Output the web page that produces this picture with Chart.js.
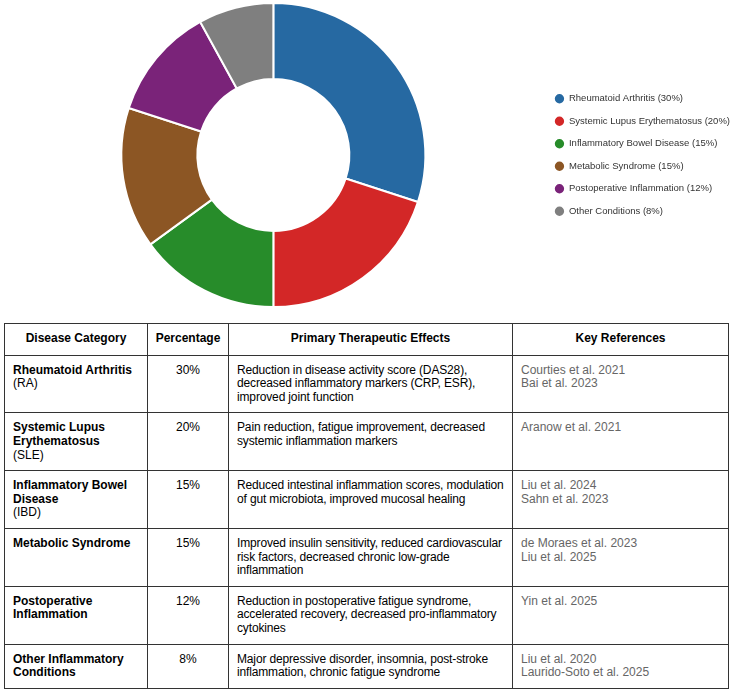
<!DOCTYPE html>
<html>
<head>
<meta charset="utf-8">
<script src="https://cdn.jsdelivr.net/npm/chart.js@4.4.1/dist/chart.umd.min.js"></script>
<style>
    body {
        margin: 0;
        background: #fff;
        overflow: hidden;
        font-family: Arial, "Liberation Sans", sans-serif;
    }

    .chart-box {
        position: relative;
        width: 740px;
        height: 310px;
    }

    table {
        border-collapse: collapse;
        table-layout: fixed;
        margin: 13px 0 0 4px;
        width: 724px;
        font-size: 12px;
        line-height: 13.6px;
        color: #000;
    }

    th, td {
        border: 1px solid #333;
        padding: 8px 2px 8px 8px;
        vertical-align: top;
        text-align: left;
    }

    th {
        text-align: center;
        font-weight: bold;
        padding: 8px 4px 9px;
    }

    td.pct {
        text-align: center;
        padding: 8px 4px;
    }

    td.effects {
        letter-spacing: -0.15px;
        padding-right: 0;
    }

    td.refs {
        color: #666;
    }
</style>
</head>
<body>

<div class="chart-box">
    <canvas id="diseaseChart"></canvas>
</div>

<table id="diseaseTable">
    <colgroup>
        <col style="width:143px">
        <col style="width:81px">
        <col style="width:284px">
        <col style="width:216px">
    </colgroup>
    <thead>
        <tr>
            <th>Disease Category</th>
            <th>Percentage</th>
            <th>Primary Therapeutic Effects</th>
            <th>Key References</th>
        </tr>
    </thead>
    <tbody></tbody>
</table>

<script>
// DADOS DO GRAFICO
const legendNames = [
    "Rheumatoid Arthritis",
    "Systemic Lupus Erythematosus",
    "Inflammatory Bowel Disease",
    "Metabolic Syndrome",
    "Postoperative Inflammation",
    "Other Conditions"
]

const shares = [30, 20, 15, 15, 12, 8]

const sliceColors = [
    "#2669a2",
    "#d32727",
    "#278c2a",
    "#8c5624",
    "#7a2379",
    "#7f7f7f"
]

// DADOS DA TABELA
const categoryNames = [
    "Rheumatoid Arthritis",
    "Systemic Lupus Erythematosus",
    "Inflammatory Bowel Disease",
    "Metabolic Syndrome",
    "Postoperative Inflammation",
    "Other Inflammatory Conditions"
]

const categoryAbbr = ["(RA)", "(SLE)", "(IBD)", "", "", ""]

const therapeuticEffects = [
    "Reduction in disease activity score (DAS28), decreased inflammatory markers (CRP, ESR), improved joint function",
    "Pain reduction, fatigue improvement, decreased systemic inflammation markers",
    "Reduced intestinal inflammation scores, modulation of gut microbiota, improved mucosal healing",
    "Improved insulin sensitivity, reduced cardiovascular risk factors, decreased chronic low-grade inflammation",
    "Reduction in postoperative fatigue syndrome, accelerated recovery, decreased pro-inflammatory cytokines",
    "Major depressive disorder, insomnia, post-stroke inflammation, chronic fatigue syndrome"
]

const keyReferences = [
    ["Courties et al. 2021", "Bai et al. 2023"],
    ["Aranow et al. 2021"],
    ["Liu et al. 2024", "Sahn et al. 2023"],
    ["de Moraes et al. 2023", "Liu et al. 2025"],
    ["Yin et al. 2025"],
    ["Liu et al. 2020", "Laurido-Soto et al. 2025"]
]

function createDiseaseChart() {

    new Chart(
        document.getElementById("diseaseChart"),
        {
            type: "doughnut",

            data: {
                labels: legendNames.map((name, i) =>
                    `${name} (${shares[i]}%)`
                ),

                datasets: [{
                    data: shares,
                    backgroundColor: sliceColors,
                    borderColor: "#fff",
                    borderWidth: 2
                }]
            },

            options: {
                responsive: true,
                maintainAspectRatio: false,
                animation: false,
                cutout: "50%",

                layout: {
                    padding: {
                        top: 2,
                        bottom: 2,
                        left: 5,
                        right: 0
                    }
                },

                plugins: {
                    legend: {
                        position: "right",
                        labels: {
                            usePointStyle: true,
                            pointStyle: "circle",
                            boxHeight: 8,
                            padding: 13,
                            color: "#333",
                            font: {
                                family: "Arial, 'Liberation Sans', sans-serif",
                                size: 9.5
                            }
                        }
                    },
                    tooltip: {
                        enabled: false
                    }
                }
            }
        }
    )
}

function fillTable() {

    const body =
        document.querySelector("#diseaseTable tbody")

    categoryNames.forEach((name, i) => {

        const tr = document.createElement("tr")

        const abbr = categoryAbbr[i]
            ? `<br>${categoryAbbr[i]}`
            : ""

        tr.innerHTML =
            `<td><b>${name}</b>${abbr}</td>` +
            `<td class="pct">${shares[i]}%</td>` +
            `<td class="effects">${therapeuticEffects[i]}</td>` +
            `<td class="refs">${keyReferences[i].join("<br>")}</td>`

        body.appendChild(tr)
    })
}

createDiseaseChart()
fillTable()
</script>
</body>
</html>
